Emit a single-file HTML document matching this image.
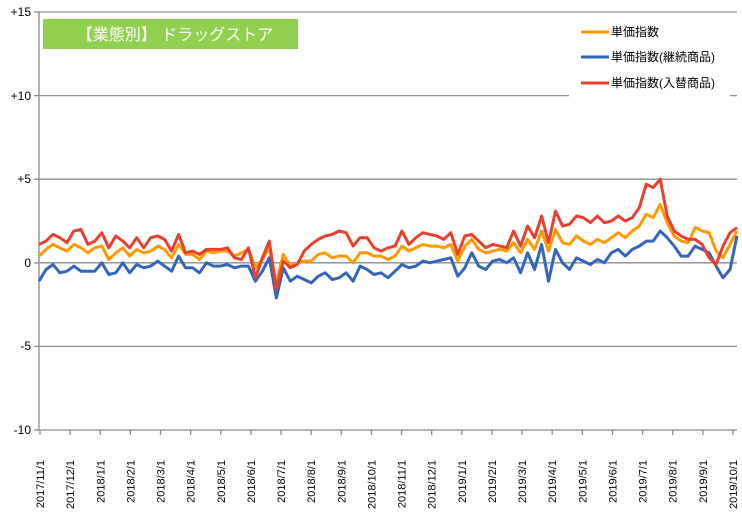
<!DOCTYPE html>
<html><head><meta charset="utf-8"><style>
body{margin:0;background:#fff;width:742px;height:510px;overflow:hidden}
svg text{font-family:"Liberation Sans","Noto Sans CJK JP",sans-serif}
</style></head><body>
<svg id="s" width="742" height="510" xmlns="http://www.w3.org/2000/svg">
<g stroke="#8c8c8c" stroke-width="1.3">
<line x1="34" y1="12" x2="737" y2="12"/>
<line x1="34" y1="95.6" x2="737" y2="95.6"/>
<line x1="34" y1="179.2" x2="737" y2="179.2"/>
<line x1="34" y1="262.8" x2="737" y2="262.8"/>
<line x1="34" y1="346.4" x2="737" y2="346.4"/>
<line x1="34" y1="430" x2="737" y2="430"/>
<line x1="39" y1="12" x2="39" y2="430"/>
</g>
<g font-size="12" text-anchor="end" fill="#000">
<text x="31" y="16">+15</text><text x="31" y="100">+10</text><text x="31" y="183">+5</text>
<text x="31" y="267">0</text><text x="31" y="350">-5</text><text x="31" y="434">-10</text>
</g>
<g id="ticks" stroke="#8c8c8c" stroke-width="1.3"></g>
<g id="labs" font-size="11" text-anchor="end" fill="#000"></g>
<rect x="569" y="14" width="170" height="83" fill="#fff"/>
<line x1="730" y1="95.6" x2="737" y2="95.6" stroke="#8c8c8c" stroke-width="1.3"/>
<rect x="43" y="19" width="255" height="30" fill="#92d050"/>
<text x="175" y="40" font-size="16" fill="#fff" text-anchor="middle">【業態別】 ドラッグストア</text>
<line x1="581" y1="32" x2="609" y2="32" stroke="#ff9900" stroke-width="3"/>
<line x1="581" y1="57" x2="609" y2="57" stroke="#3366bb" stroke-width="3"/>
<line x1="581" y1="83" x2="609" y2="83" stroke="#e8402f" stroke-width="3"/>
<g font-size="12" fill="#000"><text x="611" y="36">単価指数</text><text x="611" y="61">単価指数(継続商品)</text><text x="611" y="87">単価指数(入替商品)</text></g>
<g id="lines" fill="none" stroke-width="3" stroke-linejoin="round"></g>
</svg>
<script>
var red=[1.1,1.3,1.7,1.5,1.2,1.9,2.0,1.1,1.3,1.8,0.9,1.6,1.3,0.9,1.5,0.9,1.5,1.6,1.4,0.7,1.7,0.6,0.7,0.5,0.8,0.8,0.8,0.9,0.3,0.2,0.9,-0.9,0.3,1.3,-1.6,0.1,-0.3,-0.1,0.7,1.1,1.4,1.6,1.7,1.9,1.8,1.0,1.5,1.5,0.9,0.7,0.9,1.0,1.9,1.1,1.5,1.8,1.7,1.6,1.4,1.8,0.5,1.6,1.7,1.3,0.9,1.1,1.0,0.9,1.9,1.0,2.2,1.5,2.8,1.2,3.1,2.2,2.3,2.8,2.7,2.4,2.8,2.4,2.5,2.8,2.5,2.7,3.3,4.7,4.5,5.0,2.8,1.9,1.6,1.4,1.4,1.1,0.3,-0.1,1.0,1.8,2.1];
var ora=[0.4,0.8,1.1,0.9,0.7,1.1,0.9,0.6,0.9,1.0,0.2,0.6,0.9,0.4,0.8,0.6,0.7,1.0,0.8,0.3,1.1,0.5,0.5,0.2,0.7,0.6,0.7,0.7,0.4,0.6,0.8,-0.3,0.2,0.9,-1.2,0.5,-0.2,0,0.1,0.1,0.5,0.6,0.3,0.4,0.4,0,0.6,0.6,0.4,0.4,0.2,0.4,1.0,0.7,0.9,1.1,1.0,1.0,0.9,1.1,0.1,1.0,1.4,0.8,0.6,0.7,0.8,0.7,1.2,0.6,1.4,0.8,1.9,0.7,2.0,1.2,1.1,1.6,1.3,1.1,1.4,1.2,1.5,1.8,1.5,1.9,2.2,2.9,2.7,3.5,2.4,1.6,1.3,1.2,2.1,1.9,1.8,0.7,0.3,1.1,1.9];
var blu=[-1.1,-0.4,-0.1,-0.6,-0.5,-0.2,-0.5,-0.5,-0.5,0,-0.7,-0.6,0,-0.6,-0.1,-0.3,-0.2,0.1,-0.2,-0.5,0.4,-0.3,-0.3,-0.6,0,-0.2,-0.2,-0.1,-0.3,-0.2,-0.2,-1.1,-0.5,0.3,-2.1,-0.3,-1.1,-0.8,-1,-1.2,-0.8,-0.6,-1,-0.9,-0.6,-1.1,-0.2,-0.4,-0.7,-0.6,-0.9,-0.5,-0.1,-0.3,-0.2,0.1,0,0.1,0.2,0.3,-0.8,-0.3,0.6,-0.2,-0.4,0.1,0.2,0,0.3,-0.6,0.6,-0.4,1.1,-1.1,0.8,0,-0.4,0.3,0.1,-0.1,0.2,0,0.6,0.8,0.4,0.8,1.0,1.3,1.3,1.9,1.5,1.0,0.4,0.4,1.0,0.8,0.6,-0.2,-0.9,-0.4,1.6];
var NS="http://www.w3.org/2000/svg";
function pl(d,c){var n=d.length,p=[];for(var i=0;i<n;i++){p.push((39+i*(737-39)/(n-1)).toFixed(1)+","+(262.8-d[i]*16.72).toFixed(1));}
var e=document.createElementNS(NS,"polyline");e.setAttribute("points",p.join(" "));e.setAttribute("stroke",c);document.getElementById("lines").appendChild(e);}
pl(ora,"#ff9900");pl(blu,"#3366bb");pl(red,"#e8402f");
var labs=["2017/11/1","2017/12/1","2018/1/1","2018/2/1","2018/3/1","2018/4/1","2018/5/1","2018/6/1","2018/7/1","2018/8/1","2018/9/1","2018/10/1","2018/11/1","2018/12/1","2019/1/1","2019/2/1","2019/3/1","2019/4/1","2019/5/1","2019/6/1","2019/7/1","2019/8/1","2019/9/1","2019/10/1"];
for(var i=0;i<labs.length;i++){var x=40+i*(733-40)/23;
var t=document.createElementNS(NS,"line");t.setAttribute("x1",x);t.setAttribute("x2",x);t.setAttribute("y1",430);t.setAttribute("y2",435);document.getElementById("ticks").appendChild(t);
var tx=document.createElementNS(NS,"text");tx.setAttribute("transform","translate("+(x+4)+",460) rotate(-90)");tx.textContent=labs[i];document.getElementById("labs").appendChild(tx);}
</script>
</body></html>
